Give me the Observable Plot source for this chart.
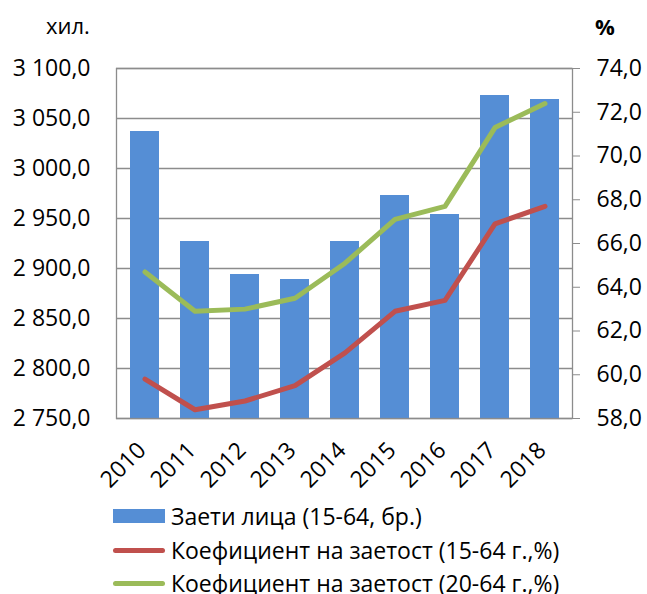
<!DOCTYPE html>
<html><head><meta charset="utf-8">
<script src="https://cdn.jsdelivr.net/npm/d3@7"></script>
<script src="https://cdn.jsdelivr.net/npm/@observablehq/plot@0.6"></script>
<style>
body{margin:0;background:#fff;}
#wrap{position:relative;width:647px;height:594px;overflow:hidden;font-family:"Open Sans",sans-serif;color:#000;background:#fff;}
#wrap svg{position:absolute;left:0;top:0;}
.unit{position:absolute;font-size:22px;line-height:1;}
.leg{position:absolute;left:113px;display:flex;align-items:center;font-size:23px;line-height:1;white-space:nowrap;}
.sw{display:inline-block;width:52px;margin-right:6px;}
</style></head><body><div id="wrap"></div>
<script>
const years = ["2010","2011","2012","2013","2014","2015","2016","2017","2018"];
const employed = [3037, 2927, 2894, 2889, 2927, 2973, 2954, 3073, 3069];
const rate1564 = [59.8, 58.4, 58.8, 59.5, 61.0, 62.9, 63.4, 66.9, 67.7];
const rate2064 = [64.7, 62.9, 63.0, 63.5, 65.1, 67.1, 67.7, 71.3, 72.4];
const leftTicks = [2750, 2800, 2850, 2900, 2950, 3000, 3050, 3100];
const rightTicks = [58, 60, 62, 64, 66, 68, 70, 72, 74];
const seriesNames = ["Заети лица (15-64, бр.)", "Коефициент на заетост (15-64 г.,%)", "Коефициент на заетост (20-64 г.,%)"];
const unitLeft = "хил.";
const unitRight = "%";
const colors = ["#558ED5", "#C0504D", "#9BBB59"];

const L0 = leftTicks[0], L1 = leftTicks[leftTicks.length-1];
const R0 = rightTicks[0], R1 = rightTicks[rightTicks.length-1];
const toLeft = v => L0 + (v - R0) * (L1 - L0) / (R1 - R0);
const fromLeft = v => R0 + (v - L0) * (R1 - R0) / (L1 - L0);
const fmt = d3.formatLocale({decimal: ",", thousands: " ", grouping: [3], currency: ["", ""]}).format(",.1f");

const bars = years.map((y, i) => ({year: y, value: employed[i]}));
const lines = [
  ...years.map((y, i) => ({year: y, series: seriesNames[1], value: rate1564[i]})),
  ...years.map((y, i) => ({year: y, series: seriesNames[2], value: rate2064[i]}))
];

const chart = Plot.plot({
  width: 647, height: 495,
  marginLeft: 116, marginRight: 75, marginTop: 68, marginBottom: 77,
  style: {fontFamily: '"Open Sans", sans-serif', fontSize: "23px", color: "#000", background: "#fff", overflow: "visible"},
  x: {type: "band", domain: years, paddingInner: 0.43, paddingOuter: 0.215},
  y: {domain: [L0, L1]},
  color: {domain: [seriesNames[1], seriesNames[2]], range: [colors[1], colors[2]]},
  marks: [
    Plot.gridY(leftTicks, {stroke: "#8c8c8c", strokeOpacity: 1, strokeWidth: 1.3}),
    Plot.barY(bars, {x: "year", y1: L0, y2: "value", fill: colors[0]}),
    Plot.lineY(lines, {x: "year", y: d => toLeft(d.value), z: "series", stroke: "series", strokeWidth: 5, strokeLinejoin: "round", strokeLinecap: "round"}),
    Plot.frame({stroke: "#8c8c8c", strokeWidth: 1.3}),
    Plot.axisY(leftTicks, {anchor: "left", tickSize: 0, tickPadding: 26, tickFormat: fmt, label: null, fill: "#000"}),
    Plot.axisY(rightTicks.map(toLeft), {anchor: "right", tickSize: 7, tickPadding: 17, tickFormat: d => fmt(fromLeft(d)), label: null, stroke: "#8c8c8c", fill: "#000"}),
    Plot.axisX({tickRotate: -45, tickSize: 0, tickPadding: 28, dx: -3, label: null, fill: "#000"})
  ]
});

const wrap = document.getElementById("wrap");
wrap.appendChild(chart);

function addDiv(cls, text, css) {
  const d = document.createElement("div");
  d.className = cls; d.textContent = text; Object.assign(d.style, css);
  wrap.appendChild(d); return d;
}
addDiv("unit", unitLeft, {left: "46px", top: "14px"});
addDiv("unit", unitRight, {left: "595px", top: "15px", fontWeight: "bold"});

const legTops = [504, 538, 571];
seriesNames.forEach((name, i) => {
  const row = document.createElement("div");
  row.className = "leg";
  row.style.top = legTops[i] + "px";
  row.style.height = "24px";
  const sw = document.createElement("span");
  sw.className = "sw";
  if (i === 0) { sw.style.height = "14px"; sw.style.background = colors[0]; }
  else { sw.style.height = "5px"; sw.style.background = colors[i]; sw.style.borderRadius = "3px"; }
  const t = document.createElement("span");
  t.textContent = name;
  row.appendChild(sw); row.appendChild(t);
  wrap.appendChild(row);
});
</script>
</body></html>
